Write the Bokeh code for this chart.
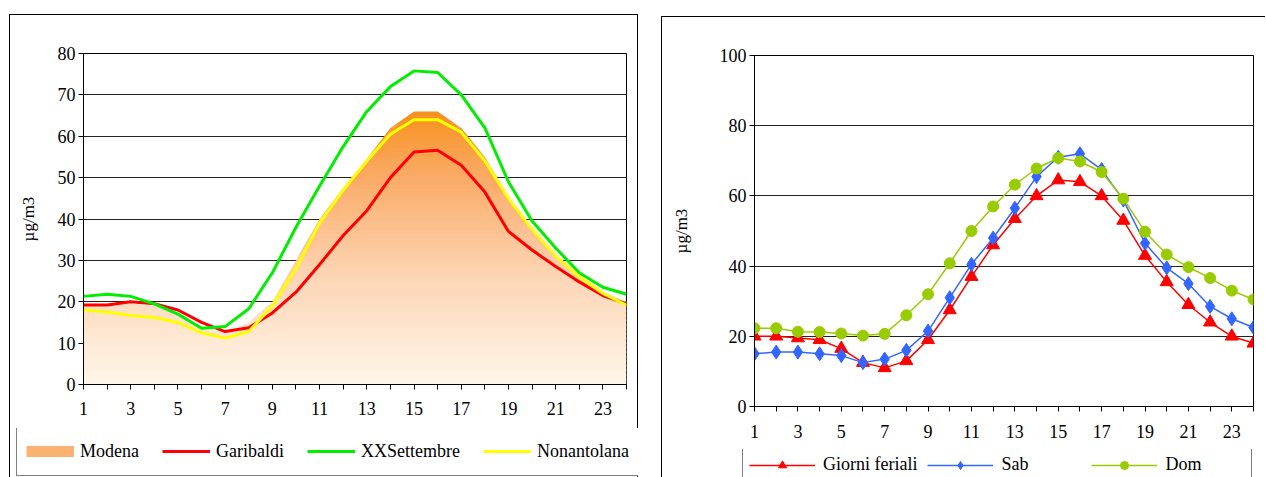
from bokeh.plotting import figure
from bokeh.models import Range1d, FixedTicker, Legend, LegendItem, Row, Column
from bokeh.embed import file_html
from bokeh.resources import INLINE

# ---------------- data ----------------
hours = list(range(1, 25))

# left chart (hourly profile by station)
modena = [19.5, 19.5, 19.5, 19.0, 17.0, 14.0, 12.5, 15.0, 20.0, 30.0, 40.0, 47.5,
          54.5, 62.0, 66.0, 66.0, 62.0, 55.0, 45.5, 37.5, 31.5, 26.5, 22.5, 20.0]
garibaldi = [19.2, 19.2, 20.0, 19.5, 18.0, 15.0, 12.8, 13.7, 17.3, 22.3, 29.0, 36.0,
             42.0, 50.0, 56.2, 56.6, 53.0, 46.5, 37.0, 32.5, 28.5, 24.8, 21.5, 19.5]
xxsettembre = [21.3, 21.8, 21.3, 19.5, 17.0, 13.6, 14.0, 18.3, 27.0, 38.0, 48.0, 57.5,
               66.0, 72.0, 75.8, 75.4, 70.0, 62.0, 49.0, 39.5, 33.0, 27.0, 23.5, 21.8]
nonantolana = [18.0, 17.5, 16.7, 16.2, 15.0, 12.5, 11.2, 12.8, 19.0, 28.0, 39.0, 47.0,
               54.0, 60.5, 64.0, 64.0, 61.0, 54.0, 45.0, 37.5, 31.0, 26.0, 22.0, 19.2]

# right chart (hourly profile by day type)
feriali = [20.0, 20.0, 19.5, 19.0, 16.5, 12.5, 11.0, 13.0, 19.0, 27.5, 37.0, 46.0,
           53.5, 60.0, 64.5, 64.0, 60.0, 53.0, 43.0, 35.5, 29.0, 24.0, 20.0, 18.0]
sab = [15.0, 15.5, 15.5, 15.0, 14.5, 12.5, 13.5, 16.0, 21.5, 31.0, 40.5, 48.0,
       56.5, 65.5, 71.0, 72.0, 67.5, 58.8, 46.5, 39.5, 35.0, 28.5, 25.0, 22.5]
dom = [22.3, 22.3, 21.3, 21.2, 20.8, 20.2, 20.7, 26.0, 32.0, 40.8, 50.0, 57.0,
       63.2, 67.8, 70.8, 69.8, 66.8, 59.2, 49.8, 43.3, 39.7, 36.6, 33.0, 30.5]

left_names = ["Modena", "Garibaldi", "XXSettembre", "Nonantolana"]
right_names = ["Giorni feriali", "Sab", "Dom"]
y_label = "µg/m3"

FONT = "'Liberation Serif', serif"

RED, GREEN, YELLOW = "#FF0000", "#00EE00", "#FFFF00"
BLUE, OLIVE = "#3366FF", "#99CC00"
MODENA_SWATCH = "#F9B272"


def style_common(p, ytick_step, ymax, label_standoff_y, label_standoff_x):
    p.xgrid.grid_line_color = None
    p.ygrid.grid_line_color = "#222222"
    p.ygrid.grid_line_width = 1
    p.outline_line_color = "black"
    p.outline_line_width = 1
    p.border_fill_color = None
    p.background_fill_color = "white"

    xa = p.xaxis[0]
    xa.ticker = FixedTicker(ticks=list(range(1, 25, 2)), minor_ticks=list(range(2, 25, 2)))
    xa.major_tick_out = 5
    xa.major_tick_in = 0
    xa.minor_tick_out = 5
    xa.minor_tick_in = 0
    xa.major_label_standoff = label_standoff_x
    xa.major_label_text_font = FONT
    xa.major_label_text_font_size = "18px"
    xa.major_label_text_color = "black"
    xa.axis_line_color = "black"
    xa.major_tick_line_color = "black"
    xa.minor_tick_line_color = "black"

    ya = p.yaxis[0]
    ya.ticker = FixedTicker(ticks=list(range(0, ymax + 1, ytick_step)))
    ya.minor_tick_line_color = None
    ya.major_tick_out = 5
    ya.major_tick_in = 0
    ya.major_label_standoff = 3
    ya.major_label_text_font = FONT
    ya.major_label_text_font_size = "18px"
    ya.major_label_text_color = "black"
    ya.axis_line_color = "black"
    ya.major_tick_line_color = "black"
    ya.axis_label = y_label
    ya.axis_label_text_font = FONT
    ya.axis_label_text_font_size = "17px"
    ya.axis_label_text_font_style = "normal"
    ya.axis_label_text_color = "black"
    ya.axis_label_standoff = label_standoff_y


def lerp_color(t):
    stops = [(0.0, (254, 246, 234)), (0.4, (253, 213, 180)),
             (0.75, (250, 172, 105)), (1.0, (247, 145, 30))]
    for (t0, c0), (t1, c1) in zip(stops[:-1], stops[1:]):
        if t <= t1:
            f = (t - t0) / (t1 - t0) if t1 > t0 else 0
            return "#%02x%02x%02x" % tuple(int(round(a + (b - a) * f)) for a, b in zip(c0, c1))
    return "#%02x%02x%02x" % stops[-1][1]


def legend_figure(width, height):
    # a strip holding only the legend; its ranges keep the proxy glyphs out of view
    lf = figure(width=width, height=height, output_backend="svg", toolbar_location=None,
                x_range=Range1d(1000, 1001), y_range=Range1d(1000, 1001),
                x_axis_location=None, y_axis_location=None,
                min_border=0, min_border_left=0, min_border_right=0,
                min_border_top=0, min_border_bottom=0)
    lf.grid.visible = False
    lf.outline_line_color = None
    lf.border_fill_color = None
    lf.background_fill_color = None
    return lf


def style_legend(leg, glyph_w, glyph_h, pad, spacing, standoff=6):
    leg.label_text_font = FONT
    leg.label_text_font_size = "18px"
    leg.label_text_color = "black"
    leg.glyph_width = glyph_w
    leg.glyph_height = glyph_h
    leg.label_height = glyph_h
    leg.label_standoff = standoff
    leg.spacing = spacing
    leg.padding = pad
    leg.margin = 0
    leg.border_line_color = "black"
    leg.border_line_width = 1
    leg.background_fill_color = "white"
    leg.background_fill_alpha = 1.0
    leg.inactive_fill_alpha = 0.0


# ---------------- left chart ----------------
p1 = figure(width=629, height=414, output_backend="svg", toolbar_location=None,
            x_range=Range1d(1, 24), y_range=Range1d(0, 80),
            min_border_left=74, min_border_right=12, min_border_top=39, min_border_bottom=44)
style_common(p1, 10, 80, 17, 12)

# gradient-filled area for Modena, drawn as stacked horizontal bands
top = max(modena)
nb = 60
for i in range(nb):
    lo = top * i / nb
    hi = top * (i + 1) / nb + (0.3 if i < nb - 1 else 0)
    y1 = [min(v, lo) for v in modena]
    y2 = [min(v, hi) for v in modena]
    p1.varea(x=hours, y1=y1, y2=y2, fill_color=lerp_color((i + 0.5) / nb), fill_alpha=1.0)

p1.line(hours, garibaldi, line_color=RED, line_width=3)
p1.line(hours, xxsettembre, line_color=GREEN, line_width=3)
p1.line(hours, nonantolana, line_color=YELLOW, line_width=3)

lf1 = legend_figure(629, 49)
k_mod = lf1.line(hours, modena, line_color=MODENA_SWATCH, line_width=11)
k_gar = lf1.line(hours, garibaldi, line_color=RED, line_width=3)
k_xx = lf1.line(hours, xxsettembre, line_color=GREEN, line_width=3)
k_non = lf1.line(hours, nonantolana, line_color=YELLOW, line_width=3)
leg1 = Legend(items=[
    LegendItem(label=left_names[0], renderers=[k_mod]),
    LegendItem(label=left_names[1], renderers=[k_gar]),
    LegendItem(label=left_names[2], renderers=[k_xx]),
    LegendItem(label=left_names[3], renderers=[k_non]),
], orientation="horizontal", location=(7, 1))
style_legend(leg1, 48, 30, 9, 23)
lf1.add_layout(leg1, "center")

col1 = Column(children=[p1, Row(children=[lf1])], spacing=0)
col1.margin = (14, 0, 0, 9)
col1.styles = {"box-shadow": "inset 1px 1px 0 0 #000000, inset -1px 0 0 0 #000000"}

# ---------------- right chart ----------------
p2 = figure(width=604, height=433, output_backend="svg", toolbar_location=None,
            x_range=Range1d(1, 24), y_range=Range1d(0, 100),
            min_border_left=93, min_border_right=12, min_border_top=39, min_border_bottom=43)
style_common(p2, 20, 100, 26, 13)

p2.line(hours, feriali, line_color=RED, line_width=1.5)
p2.scatter(hours, feriali, marker="triangle", size=13, fill_color=RED, line_color=RED)
p2.line(hours, sab, line_color=BLUE, line_width=1.5)
p2.scatter(hours, sab, marker="diamond", size=14, fill_color=BLUE, line_color=BLUE)
p2.line(hours, dom, line_color=OLIVE, line_width=1.5)
p2.scatter(hours, dom, marker="circle", size=11, fill_color=OLIVE, line_color=OLIVE)

lf2 = legend_figure(604, 28)
kl_fer = lf2.line(hours, feriali, line_color=RED, line_width=1.5)
ks_fer = lf2.scatter(hours, feriali, marker="triangle", size=13, fill_color=RED, line_color=RED)
kl_sab = lf2.line(hours, sab, line_color=BLUE, line_width=1.5)
ks_sab = lf2.scatter(hours, sab, marker="diamond", size=14, fill_color=BLUE, line_color=BLUE)
kl_dom = lf2.line(hours, dom, line_color=OLIVE, line_width=1.5)
ks_dom = lf2.scatter(hours, dom, marker="circle", size=11, fill_color=OLIVE, line_color=OLIVE)
leg2 = Legend(items=[
    LegendItem(label=right_names[0], renderers=[kl_fer, ks_fer]),
    LegendItem(label=right_names[1], renderers=[kl_sab, ks_sab]),
    LegendItem(label=right_names[2], renderers=[kl_dom, ks_dom]),
], orientation="horizontal", location=(81, -5))
style_legend(leg2, 66, 20, 6, 10, standoff=8)
leg2.label_width = 80
lf2.add_layout(leg2, "center")

col2 = Column(children=[p2, Row(children=[lf2])], spacing=0)
col2.margin = (16, 0, 0, 0)
col2.styles = {"box-shadow": "inset 1px 1px 0 0 #000000"}

layout = Row(children=[col1, col2], spacing=23)

open("out.html", "w").write(file_html(layout, INLINE))
